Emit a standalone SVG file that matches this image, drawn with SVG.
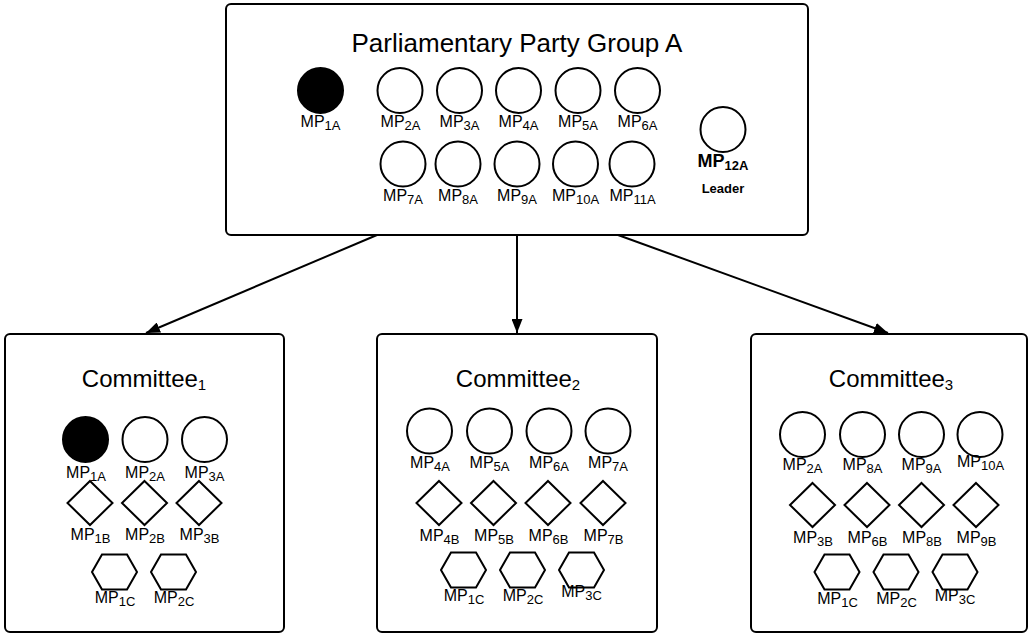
<svg xmlns="http://www.w3.org/2000/svg" width="1030" height="634" viewBox="0 0 1030 634">
<style>
text{font-family:"Liberation Sans",Arial,sans-serif;fill:#000;}
.box{fill:#fff;stroke:#000;stroke-width:2;}
.sh{fill:#fff;stroke:#000;stroke-width:2;}
.filled{fill:#000;stroke:#000;stroke-width:2;}
.lbl{font-size:16px;text-anchor:middle;}
.sub{font-size:13px;}
.title{font-size:26px;text-anchor:middle;}
.ctitle{font-size:24px;text-anchor:middle;}
.csub{font-size:15px;}
.conn{stroke:#000;stroke-width:2;fill:none;marker-end:url(#ah);}
</style>
<defs>
<marker id="ah" markerUnits="userSpaceOnUse" markerWidth="14" markerHeight="11" refX="14" refY="5.5" orient="auto">
<path d="M0,0 L14,5.5 L0,11 z" fill="#000"/>
</marker>
<polygon id="dia" points="0,-22 22.5,0 0,22 -22.5,0"/>
<polygon id="hex" points="-22.5,0 -12.5,-17.5 12.5,-17.5 22.5,0 12.5,17.5 -12.5,17.5"/>
</defs>
<rect width="1030" height="634" fill="#fff"/>

<g id="party-group-a">
<rect class="box" x="226" y="4" width="582" height="231" rx="5"/>
<text class="title" x="517" y="52">Parliamentary Party Group A</text>
<g id="a-mp1a"><ellipse class="filled" cx="320.5" cy="90.5" rx="22.5" ry="22.5"/><text class="lbl" x="320.5" y="127">MP<tspan class="sub" dy="3">1A</tspan></text></g>
<g id="a-mp2a"><ellipse class="sh" cx="400" cy="90.5" rx="22.5" ry="22.5"/><text class="lbl" x="400.5" y="127">MP<tspan class="sub" dy="3">2A</tspan></text></g>
<g id="a-mp3a"><ellipse class="sh" cx="459.5" cy="90.5" rx="22.5" ry="22.5"/><text class="lbl" x="459.5" y="127">MP<tspan class="sub" dy="3">3A</tspan></text></g>
<g id="a-mp4a"><ellipse class="sh" cx="518.5" cy="90.5" rx="22.5" ry="22.5"/><text class="lbl" x="518.5" y="127">MP<tspan class="sub" dy="3">4A</tspan></text></g>
<g id="a-mp5a"><ellipse class="sh" cx="578" cy="90.5" rx="22.5" ry="22.5"/><text class="lbl" x="578" y="127">MP<tspan class="sub" dy="3">5A</tspan></text></g>
<g id="a-mp6a"><ellipse class="sh" cx="637.5" cy="90.5" rx="22.5" ry="22.5"/><text class="lbl" x="637.5" y="127">MP<tspan class="sub" dy="3">6A</tspan></text></g>
<g id="a-mp7a"><ellipse class="sh" cx="403" cy="164" rx="22.5" ry="22.5"/><text class="lbl" x="403" y="201">MP<tspan class="sub" dy="3">7A</tspan></text></g>
<g id="a-mp8a"><ellipse class="sh" cx="458" cy="164" rx="22.5" ry="22.5"/><text class="lbl" x="458" y="201">MP<tspan class="sub" dy="3">8A</tspan></text></g>
<g id="a-mp9a"><ellipse class="sh" cx="517" cy="164" rx="22.5" ry="22.5"/><text class="lbl" x="517" y="201">MP<tspan class="sub" dy="3">9A</tspan></text></g>
<g id="a-mp10a"><ellipse class="sh" cx="575.5" cy="164" rx="22.5" ry="22.5"/><text class="lbl" x="575.5" y="201">MP<tspan class="sub" dy="3">10A</tspan></text></g>
<g id="a-mp11a"><ellipse class="sh" cx="632" cy="164" rx="22.5" ry="22.5"/><text class="lbl" x="632.5" y="201">MP<tspan class="sub" dy="3">11A</tspan></text></g>
<g id="a-mp12a"><ellipse class="sh" cx="723" cy="129.5" rx="22.5" ry="22.5"/><text x="723" y="167" font-size="18" font-weight="bold" text-anchor="middle">MP<tspan font-size="13" dy="3">12A</tspan></text><text x="723" y="193" font-size="13" font-weight="bold" text-anchor="middle">Leader</text></g>
</g>

<g id="connectors">
<line class="conn" x1="377" y1="235" x2="146" y2="333"/>
<line class="conn" x1="517" y1="235" x2="517" y2="333"/>
<line class="conn" x1="618" y1="235" x2="888" y2="333"/>
</g>

<g id="committee-1">
<rect class="box" x="5" y="334" width="279" height="298" rx="5"/>
<text class="ctitle" x="144" y="387">Committee<tspan class="csub" dy="3">1</tspan></text>
<g id="c1-mp1a"><ellipse class="filled" cx="85.5" cy="439.5" rx="22.5" ry="22.5"/><text class="lbl" x="86" y="478">MP<tspan class="sub" dy="3">1A</tspan></text></g>
<g id="c1-mp2a"><ellipse class="sh" cx="145" cy="439.5" rx="22.5" ry="22.5"/><text class="lbl" x="145" y="478">MP<tspan class="sub" dy="3">2A</tspan></text></g>
<g id="c1-mp3a"><ellipse class="sh" cx="204.5" cy="439.5" rx="22.5" ry="22.5"/><text class="lbl" x="204.5" y="478">MP<tspan class="sub" dy="3">3A</tspan></text></g>
<g id="c1-mp1b"><use href="#dia" class="sh" x="90" y="503"/><text class="lbl" x="90.5" y="540">MP<tspan class="sub" dy="3">1B</tspan></text></g>
<g id="c1-mp2b"><use href="#dia" class="sh" x="144.5" y="503"/><text class="lbl" x="145" y="540">MP<tspan class="sub" dy="3">2B</tspan></text></g>
<g id="c1-mp3b"><use href="#dia" class="sh" x="199" y="503"/><text class="lbl" x="199.5" y="540">MP<tspan class="sub" dy="3">3B</tspan></text></g>
<g id="c1-mp1c"><use href="#hex" class="sh" x="114.5" y="572"/><text class="lbl" x="115" y="603">MP<tspan class="sub" dy="3">1C</tspan></text></g>
<g id="c1-mp2c"><use href="#hex" class="sh" x="173.5" y="572"/><text class="lbl" x="174" y="603">MP<tspan class="sub" dy="3">2C</tspan></text></g>
</g>

<g id="committee-2">
<rect class="box" x="377" y="334" width="280" height="298" rx="5"/>
<text class="ctitle" x="518" y="387">Committee<tspan class="csub" dy="3">2</tspan></text>
<g id="c2-mp4a"><ellipse class="sh" cx="429.5" cy="431" rx="22.5" ry="22.5"/><text class="lbl" x="430" y="468">MP<tspan class="sub" dy="3">4A</tspan></text></g>
<g id="c2-mp5a"><ellipse class="sh" cx="489.5" cy="431" rx="22.5" ry="22.5"/><text class="lbl" x="489.5" y="468">MP<tspan class="sub" dy="3">5A</tspan></text></g>
<g id="c2-mp6a"><ellipse class="sh" cx="549" cy="431" rx="22.5" ry="22.5"/><text class="lbl" x="549" y="468">MP<tspan class="sub" dy="3">6A</tspan></text></g>
<g id="c2-mp7a"><ellipse class="sh" cx="608" cy="431" rx="22.5" ry="22.5"/><text class="lbl" x="608" y="468">MP<tspan class="sub" dy="3">7A</tspan></text></g>
<g id="c2-mp4b"><use href="#dia" class="sh" x="439" y="503"/><text class="lbl" x="439.5" y="541">MP<tspan class="sub" dy="3">4B</tspan></text></g>
<g id="c2-mp5b"><use href="#dia" class="sh" x="493.5" y="503"/><text class="lbl" x="494" y="541">MP<tspan class="sub" dy="3">5B</tspan></text></g>
<g id="c2-mp6b"><use href="#dia" class="sh" x="548" y="503"/><text class="lbl" x="548.5" y="541">MP<tspan class="sub" dy="3">6B</tspan></text></g>
<g id="c2-mp7b"><use href="#dia" class="sh" x="603" y="503"/><text class="lbl" x="603.5" y="541">MP<tspan class="sub" dy="3">7B</tspan></text></g>
<g id="c2-mp1c"><use href="#hex" class="sh" x="463.5" y="570"/><text class="lbl" x="464" y="601">MP<tspan class="sub" dy="3">1C</tspan></text></g>
<g id="c2-mp2c"><use href="#hex" class="sh" x="522.5" y="570"/><text class="lbl" x="523" y="601">MP<tspan class="sub" dy="3">2C</tspan></text></g>
<g id="c2-mp3c"><use href="#hex" class="sh" x="581.5" y="570"/><text class="lbl" x="581.5" y="597">MP<tspan class="sub" dy="3">3C</tspan></text></g>
</g>

<g id="committee-3">
<rect class="box" x="751" y="334" width="276" height="298" rx="5"/>
<text class="ctitle" x="891" y="387">Committee<tspan class="csub" dy="3">3</tspan></text>
<g id="c3-mp2a"><ellipse class="sh" cx="802.5" cy="434.5" rx="22.5" ry="22.5"/><text class="lbl" x="802.5" y="470">MP<tspan class="sub" dy="3">2A</tspan></text></g>
<g id="c3-mp8a"><ellipse class="sh" cx="862.5" cy="434.5" rx="22.5" ry="22.5"/><text class="lbl" x="862.5" y="470">MP<tspan class="sub" dy="3">8A</tspan></text></g>
<g id="c3-mp9a"><ellipse class="sh" cx="921.5" cy="434.5" rx="22.5" ry="22.5"/><text class="lbl" x="921.5" y="470">MP<tspan class="sub" dy="3">9A</tspan></text></g>
<g id="c3-mp10a"><ellipse class="sh" cx="980" cy="434.5" rx="22.5" ry="22.5"/><text class="lbl" x="980.5" y="467">MP<tspan class="sub" dy="3">10A</tspan></text></g>
<g id="c3-mp3b"><use href="#dia" class="sh" x="812.5" y="505"/><text class="lbl" x="813" y="543">MP<tspan class="sub" dy="3">3B</tspan></text></g>
<g id="c3-mp6b"><use href="#dia" class="sh" x="867" y="505"/><text class="lbl" x="867.5" y="543">MP<tspan class="sub" dy="3">6B</tspan></text></g>
<g id="c3-mp8b"><use href="#dia" class="sh" x="921.5" y="505"/><text class="lbl" x="922" y="543">MP<tspan class="sub" dy="3">8B</tspan></text></g>
<g id="c3-mp9b"><use href="#dia" class="sh" x="976" y="505"/><text class="lbl" x="976.5" y="543">MP<tspan class="sub" dy="3">9B</tspan></text></g>
<g id="c3-mp1c"><use href="#hex" class="sh" x="837" y="572"/><text class="lbl" x="837.5" y="604">MP<tspan class="sub" dy="3">1C</tspan></text></g>
<g id="c3-mp2c"><use href="#hex" class="sh" x="896" y="572"/><text class="lbl" x="896.5" y="604">MP<tspan class="sub" dy="3">2C</tspan></text></g>
<g id="c3-mp3c"><use href="#hex" class="sh" x="955" y="572"/><text class="lbl" x="955" y="601">MP<tspan class="sub" dy="3">3C</tspan></text></g>
</g>
</svg>
